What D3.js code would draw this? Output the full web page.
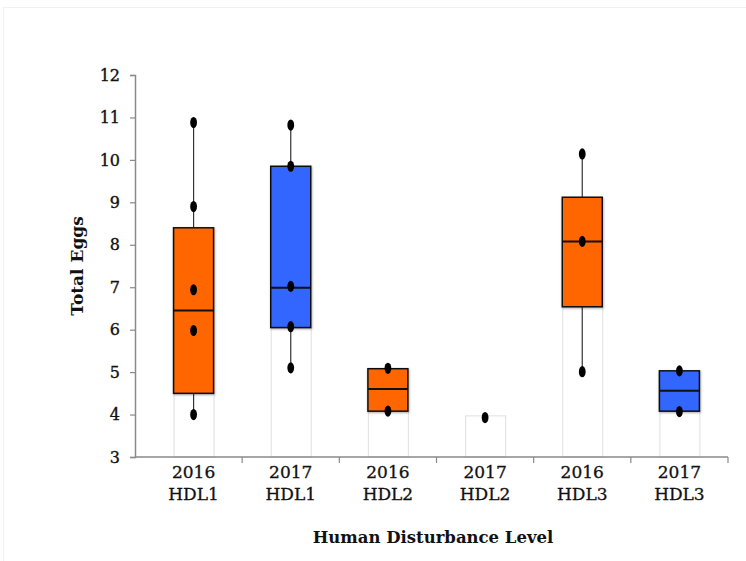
<!DOCTYPE html>
<html>
<head>
<meta charset="utf-8">
<script src="https://cdn.jsdelivr.net/npm/d3@7"></script>
<style>
  html, body { margin: 0; padding: 0; background: #fff; }
  svg { display: block; }
</style>
</head>
<body>
<svg id="chart" width="746" height="561"></svg>
<script>
// Total eggs per nest, by year and human disturbance level
const years  = ["2016", "2017", "2016", "2017", "2016", "2017"];
const levels = ["HDL1", "HDL1", "HDL2", "HDL2", "HDL3", "HDL3"];
const q1     = [4.5, 6.05, 4.08, null, 6.54, 4.08];
const median = [6.45, 6.99, 4.6, null, 8.08, 4.56];
const q3     = [8.4, 9.85, 5.08, null, 9.12, 5.03];
const whiskerLow  = [4.0, 5.1, null, null, 5.01, null];
const whiskerHigh = [10.88, 10.82, null, null, 10.14, null];
const baseTop = [4.5, 6.05, 4.08, 3.97, 6.54, 4.08];
const points = [
  [4.0, 5.98, 6.94, 8.9, 10.88],
  [5.1, 6.07, 7.02, 9.85, 10.82],
  [4.08, 5.09],
  [3.93],
  [5.01, 8.08, 10.14],
  [4.07, 5.03]
];
const yTicks = [3, 4, 5, 6, 7, 8, 9, 10, 11, 12];
const yearColors = { "2016": "#FF6600", "2017": "#3366FF" };

const svg = d3.select("#chart");
const ids = years.map((y, i) => i);

// faint frame around the figure
svg.append("rect")
  .attr("x", 3.5).attr("y", 7.5).attr("width", 760).attr("height", 570)
  .attr("fill", "none").attr("stroke", "#f0f0f0");

const defs = svg.append("defs");
const sh = defs.append("filter").attr("id", "shadow")
  .attr("x", "-30%").attr("y", "-30%").attr("width", "160%").attr("height", "160%");
sh.append("feDropShadow").attr("dx", 0.6).attr("dy", 1).attr("stdDeviation", 0.9)
  .attr("flood-color", "#000").attr("flood-opacity", 0.35);
const soft = defs.append("filter").attr("id", "soft")
  .attr("x", "-80%").attr("y", "-80%").attr("width", "260%").attr("height", "260%");
soft.append("feGaussianBlur").attr("stdDeviation", 0.6);

const y = d3.scaleLinear().domain([3, 12]).range([457, 75]);
const x = d3.scaleBand().domain(ids).range([145, 728]).padding(0);
const boxW = 40;
const cx = i => x(i) + x.bandwidth() / 2;

// faint base columns beneath each box
svg.append("g").selectAll("rect").data(ids).join("rect")
  .attr("x", i => cx(i) - boxW / 2 + 0.5)
  .attr("y", i => y(baseTop[i]))
  .attr("width", boxW)
  .attr("height", i => y(3) - y(baseTop[i]))
  .attr("fill", "#fff")
  .attr("stroke", "#e4e4e4")
  .attr("stroke-width", 1.2);

// x axis line and category boundary ticks
const axisColor = "#8a8a8a";
svg.append("line")
  .attr("x1", 135).attr("x2", 728).attr("y1", 457).attr("y2", 457)
  .attr("stroke", axisColor).attr("stroke-width", 1.5);
const bounds = ids.map(i => x(i) + x.bandwidth());
svg.append("g").selectAll("line").data(bounds).join("line")
  .attr("x1", d => d).attr("x2", d => d)
  .attr("y1", 457).attr("y2", 463)
  .attr("stroke", axisColor).attr("stroke-width", 1.2);

// y axis
const yAxis = d3.axisLeft(y).tickValues(yTicks).tickSize(5).tickPadding(10)
  .tickFormat(d3.format("d"));
const gy = svg.append("g").attr("transform", "translate(135,0)").call(yAxis);
gy.select(".domain").attr("stroke", axisColor).attr("stroke-width", 1.5);
gy.selectAll(".tick line").attr("stroke", axisColor).attr("stroke-width", 1.2);
gy.selectAll(".tick text")
  .attr("font-family", "'DejaVu Serif', serif")
  .attr("font-size", 16)
  .attr("fill", "#111")
  .attr("stroke", "#111").attr("stroke-width", 0.35);

// whiskers
const wk = ids.filter(i => whiskerLow[i] !== null);
const gw = svg.append("g").attr("stroke", "#333").attr("stroke-width", 1.2);
gw.selectAll("line.lo").data(wk).join("line").attr("class", "lo")
  .attr("x1", i => cx(i)).attr("x2", i => cx(i))
  .attr("y1", i => y(q1[i])).attr("y2", i => y(whiskerLow[i]));
gw.selectAll("line.hi").data(wk).join("line").attr("class", "hi")
  .attr("x1", i => cx(i)).attr("x2", i => cx(i))
  .attr("y1", i => y(q3[i])).attr("y2", i => y(whiskerHigh[i]));

// boxes
const bx = ids.filter(i => q1[i] !== null);
svg.append("g").selectAll("rect").data(bx).join("rect")
  .attr("x", i => cx(i) - boxW / 2)
  .attr("y", i => y(q3[i]))
  .attr("width", boxW)
  .attr("height", i => y(q1[i]) - y(q3[i]))
  .attr("fill", i => yearColors[years[i]])
  .attr("stroke", "#111")
  .attr("stroke-width", 1.5)
  .attr("filter", "url(#shadow)");

// medians
svg.append("g").selectAll("line").data(bx).join("line")
  .attr("x1", i => cx(i) - boxW / 2).attr("x2", i => cx(i) + boxW / 2)
  .attr("y1", i => y(median[i])).attr("y2", i => y(median[i]))
  .attr("stroke", "#111").attr("stroke-width", 2);

// individual observations
const pts = ids.flatMap(i => points[i].map(v => ({ i, v })));
svg.append("g").selectAll("ellipse").data(pts).join("ellipse")
  .attr("cx", d => cx(d.i))
  .attr("cy", d => y(d.v))
  .attr("rx", 3.4).attr("ry", 5.6)
  .attr("fill", "#000")
  .attr("filter", "url(#soft)");

// category labels
const labelFont = "'DejaVu Serif', serif";
const gl = svg.append("g")
  .attr("font-family", labelFont).attr("font-size", 17)
  .attr("fill", "#111").attr("stroke", "#111").attr("stroke-width", 0.3)
  .attr("text-anchor", "middle");
gl.selectAll("text.yr").data(ids).join("text").attr("class", "yr")
  .attr("x", i => cx(i)).attr("y", 478).text(i => years[i]);
gl.selectAll("text.lv").data(ids).join("text").attr("class", "lv")
  .attr("x", i => cx(i)).attr("y", 500).text(i => levels[i]);

// axis titles
svg.append("text")
  .attr("x", 433).attr("y", 543)
  .attr("text-anchor", "middle")
  .attr("font-family", labelFont).attr("font-weight", "bold").attr("font-size", 16.5)
  .attr("fill", "#111")
  .text("Human Disturbance Level");

svg.append("text")
  .attr("transform", "translate(83,266) rotate(-90)")
  .attr("text-anchor", "middle")
  .attr("font-family", labelFont).attr("font-weight", "bold").attr("font-size", 17)
  .attr("fill", "#111")
  .text("Total Eggs");
</script>
</body>
</html>
